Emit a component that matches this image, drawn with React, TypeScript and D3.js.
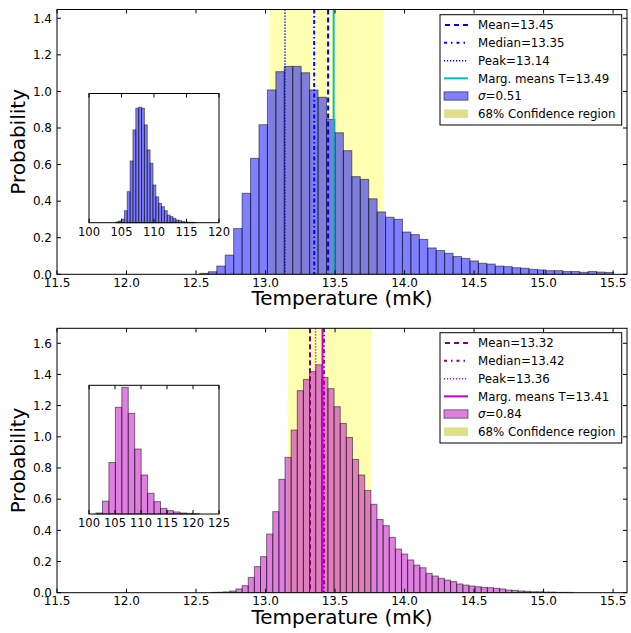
import React from 'react';
import * as d3 from 'd3';

// ---------- data ----------
const xTicks = [11.5, 12.0, 12.5, 13.0, 13.5, 14.0, 14.5, 15.0, 15.5];
const topYTicks = [0, 0.2, 0.4, 0.6, 0.8, 1.0, 1.2, 1.4];
const botYTicks = [0, 0.2, 0.4, 0.6, 0.8, 1.0, 1.2, 1.4, 1.6];

const topBinStart = 12.528;
const topBinWidth = 0.0607;
const topHeights = [
  0.005, 0.014, 0.045, 0.105, 0.25, 0.443, 0.634, 0.818, 1.008, 1.108,
  1.137, 1.137, 1.102, 1.008, 0.968, 0.847, 0.774, 0.676, 0.534, 0.519,
  0.413, 0.341, 0.312, 0.301, 0.231, 0.217, 0.191, 0.144, 0.13, 0.115,
  0.097, 0.087, 0.073, 0.06, 0.056, 0.045, 0.042, 0.036, 0.033, 0.027,
  0.024, 0.02, 0.02, 0.015, 0.015, 0.011, 0.015, 0.012, 0.01,
];

const botBinStart = 12.611;
const botBinWidth = 0.0441;
const botHeights = [
  0.002, 0.003, 0.005, 0.011, 0.024, 0.045, 0.098, 0.167, 0.231, 0.376,
  0.52, 0.727, 0.868, 1.043, 1.296, 1.368, 1.418, 1.462, 1.381, 1.309,
  1.193, 1.086, 0.996, 0.855, 0.755, 0.656, 0.567, 0.47, 0.43, 0.355,
  0.28, 0.248, 0.21, 0.177, 0.16, 0.124, 0.107, 0.092, 0.081, 0.071,
  0.056, 0.049, 0.043, 0.038, 0.034, 0.032, 0.028, 0.024, 0.017, 0.015,
  0.011, 0.009, 0.006, 0.006, 0.004, 0.004, 0.002, 0.002, 0.002,
];

const insetTopStart = 104.12;
const insetTopWidth = 0.44;
const insetTopHeights = [
  0.006, 0.013, 0.026, 0.093, 0.24, 0.478, 0.718, 0.886, 0.894, 0.886,
  0.757, 0.563, 0.46, 0.292, 0.2, 0.15, 0.124, 0.093, 0.059, 0.047,
  0.034, 0.021, 0.016, 0.008, 0.005, 0.004, 0.003, 0.002,
];
const insetTopTicks = [100, 105, 110, 115, 120];

const insetBotStart = 101.35;
const insetBotWidth = 1.24;
const insetBotHeights = [
  0.008, 0.1, 0.4, 0.829, 0.984, 0.782, 0.505, 0.303, 0.161, 0.096,
  0.044, 0.026, 0.016, 0.008, 0.005, 0.003,
];
const insetBotTicks = [100, 105, 110, 115, 120, 125];

const topStats = { mean: 13.45, median: 13.35, peak: 13.14, marg: 13.49, sigma: 0.51, ci: [13.03, 13.85] };
const botStats = { mean: 13.32, median: 13.42, peak: 13.36, marg: 13.41, sigma: 0.84, ci: [13.16, 13.76] };

const FONT = 'DejaVu Sans, sans-serif';

type PanelProps = {
  top: number;
  bottom: number;
  yMax: number;
  yTicks: number[];
  heights: number[];
  binStart: number;
  binWidth: number;
  barColor: string;
  stats: typeof topStats;
  colors: { mean: string; median: string; peak: string; marg: string };
  inset: { top: number; bottom: number; domain: [number, number]; ticks: number[]; start: number; width: number; heights: number[] };
  legendTop: number;
};

const L = 57, R = 627;

function Panel(p: PanelProps) {
  const x = d3.scaleLinear().domain([11.5, 15.6]).range([L, R]);
  const y = d3.scaleLinear().domain([0, p.yMax]).range([p.bottom, p.top]);
  const fmt = d3.format('.1f');
  const bins = p.heights.map((h, i) => ({ x0: p.binStart + i * p.binWidth, x1: p.binStart + (i + 1) * p.binWidth, h }));

  const ix = d3.scaleLinear().domain(p.inset.domain).range([89, 219]);
  const iy = d3.scaleLinear().domain([0, 1]).range([p.inset.bottom, p.inset.top]);
  const ibins = p.inset.heights.map((h, i) => ({ x0: p.inset.start + i * p.inset.width, x1: p.inset.start + (i + 1) * p.inset.width, h }));

  const lt = p.legendTop;
  const rows = [10.3, 28, 46, 63.6, 81.3, 99];
  const hx0 = 444, hx1 = 468, tx = 478;
  const s = p.stats;
  const lfs = 11.8;

  return (
    <g>
      <rect x={L} y={p.top} width={R - L} height={p.bottom - p.top} fill="white" />
      <clipPath id={`clip${p.top}`}>
        <rect x={L} y={p.top} width={R - L} height={p.bottom - p.top} />
      </clipPath>
      <g clipPath={`url(#clip${p.top})`}>
        <rect x={x(s.ci[0])} y={p.top} width={x(s.ci[1]) - x(s.ci[0])} height={p.bottom - p.top} fill="yellow" fillOpacity={0.3} />
        <line x1={x(s.median)} x2={x(s.median)} y1={p.top} y2={p.bottom} stroke="white" strokeWidth={4} />
        {bins.map((b, i) => (
          <rect key={i} x={x(b.x0)} y={y(b.h)} width={x(b.x1) - x(b.x0)} height={p.bottom - y(b.h)}
            fill={p.barColor} fillOpacity={0.5} stroke="black" strokeOpacity={0.5} strokeWidth={1} />
        ))}
        <line x1={x(s.peak)} x2={x(s.peak)} y1={p.top} y2={p.bottom} stroke={p.colors.peak} strokeWidth={1.5} strokeDasharray="1.2,1.8" />
        <line x1={x(s.median)} x2={x(s.median)} y1={p.top} y2={p.bottom} stroke={p.colors.median} strokeWidth={2} strokeDasharray="4,2.5,1.5,2.5" />
        <line x1={x(s.mean)} x2={x(s.mean)} y1={p.top} y2={p.bottom} stroke={p.colors.mean} strokeWidth={2} strokeDasharray="5,3" />
        <line x1={x(s.marg)} x2={x(s.marg)} y1={p.top} y2={p.bottom} stroke={p.colors.marg} strokeWidth={2} />
      </g>
      {/* frame */}
      <rect x={L} y={p.top} width={R - L} height={p.bottom - p.top} fill="none" stroke="black" strokeWidth={1} />
      {/* x ticks */}
      {xTicks.map((t) => (
        <g key={t}>
          <line x1={x(t)} x2={x(t)} y1={p.bottom} y2={p.bottom - 4} stroke="black" />
          <line x1={x(t)} x2={x(t)} y1={p.top} y2={p.top + 4} stroke="black" />
          <text x={x(t)} y={p.bottom + 12.2} fontSize={12} fontFamily={FONT} textAnchor="middle">{fmt(t)}</text>
        </g>
      ))}
      {p.yTicks.map((t) => (
        <g key={t}>
          <line x1={L} x2={L + 4} y1={y(t)} y2={y(t)} stroke="black" />
          <line x1={R} x2={R - 4} y1={y(t)} y2={y(t)} stroke="black" />
          <text x={52} y={y(t) + 4.3} fontSize={12} fontFamily={FONT} textAnchor="end">{fmt(t)}</text>
        </g>
      ))}
      <text x={(L + R) / 2} y={p.bottom + 31} fontSize={20} fontFamily={FONT} textAnchor="middle">Temperature (mK)</text>
      <text transform={`translate(24.5,${(p.top + p.bottom) / 2}) rotate(-90)`} fontSize={20} fontFamily={FONT} textAnchor="middle">Probability</text>

      {/* inset */}
      <rect x={89} y={p.inset.top} width={130} height={p.inset.bottom - p.inset.top} fill="white" />
      {ibins.map((b, i) => (
        <rect key={i} x={ix(b.x0)} y={iy(b.h)} width={ix(b.x1) - ix(b.x0)} height={p.inset.bottom - iy(b.h)}
          fill={p.barColor} fillOpacity={0.5} stroke="black" strokeOpacity={0.5} strokeWidth={1} />
      ))}
      <rect x={89} y={p.inset.top} width={130} height={p.inset.bottom - p.inset.top} fill="none" stroke="black" strokeWidth={1} />
      {p.inset.ticks.map((t) => (
        <g key={t}>
          <line x1={ix(t)} x2={ix(t)} y1={p.inset.top} y2={p.inset.top + 4} stroke="black" />
          <line x1={ix(t)} x2={ix(t)} y1={p.inset.bottom} y2={p.inset.bottom - 4} stroke="black" />
          <text x={ix(t)} y={p.inset.bottom + 13.2} fontSize={11.5} fontFamily={FONT} textAnchor="middle">{t}</text>
        </g>
      ))}

      {/* legend */}
      <rect x={440} y={lt} width={181.7} height={110.3} fill="white" stroke="black" strokeWidth={1} />
      <line x1={hx0} x2={hx1} y1={lt + rows[0]} y2={lt + rows[0]} stroke={p.colors.mean} strokeWidth={2} strokeDasharray="5,4" strokeDashoffset={-1} />
      <line x1={hx0} x2={hx1} y1={lt + rows[1]} y2={lt + rows[1]} stroke={p.colors.median} strokeWidth={2} strokeDasharray="3,4,1.5,4" />
      <line x1={hx0} x2={hx1} y1={lt + rows[2]} y2={lt + rows[2]} stroke={p.colors.peak} strokeWidth={1.5} strokeDasharray="1.2,1.8" />
      <line x1={hx0} x2={hx1} y1={lt + rows[3]} y2={lt + rows[3]} stroke={p.colors.marg} strokeWidth={2} />
      <rect x={hx0} y={lt + rows[4] - 4.2} width={hx1 - hx0} height={8.4} fill={p.barColor} fillOpacity={0.5} stroke="black" strokeOpacity={0.5} />
      <rect x={hx0} y={lt + rows[5] - 4.2} width={hx1 - hx0} height={8.4} fill="#dfdf88" />
      {[`Mean=${s.mean.toFixed(2)}`, `Median=${s.median.toFixed(2)}`, `Peak=${s.peak.toFixed(2)}`, `Marg. means T=${s.marg.toFixed(2)}`].map((t, i) => (
        <text key={t} x={tx} y={lt + rows[i] + 4.2} fontSize={lfs} fontFamily={FONT}>{t}</text>
      ))}
      <text x={tx} y={lt + rows[4] + 4.2} fontSize={lfs} fontFamily={FONT}>
        <tspan fontStyle="italic">σ</tspan>={s.sigma.toFixed(2)}
      </text>
      <text x={tx} y={lt + rows[5] + 4.2} fontSize={lfs} fontFamily={FONT}>68% Confidence region</text>
    </g>
  );
}

export default function App() {
  return (
    <svg width={631} height={633} style={{ position: 'absolute', left: 0, top: 0, background: 'white' }}>
      <rect width={631} height={633} fill="white" />
      <Panel
        top={9.5} bottom={274.3} yMax={1.448} yTicks={topYTicks}
        heights={topHeights} binStart={topBinStart} binWidth={topBinWidth}
        barColor="#0000ff" stats={topStats}
        colors={{ mean: '#0000ff', median: '#0000ff', peak: '#0000ff', marg: '#00bfbf' }}
        inset={{ top: 93.5, bottom: 222.7, domain: [100, 120], ticks: insetTopTicks, start: insetTopStart, width: insetTopWidth, heights: insetTopHeights }}
        legendTop={14.7}
      />
      <Panel
        top={328.3} bottom={592.7} yMax={1.696} yTicks={botYTicks}
        heights={botHeights} binStart={botBinStart} binWidth={botBinWidth}
        barColor="#bf00bf" stats={botStats}
        colors={{ mean: '#800080', median: '#800080', peak: '#a020a0', marg: '#cc00cc' }}
        inset={{ top: 385.3, bottom: 514, domain: [100, 125], ticks: insetBotTicks, start: insetBotStart, width: insetBotWidth, heights: insetBotHeights }}
        legendTop={332.7}
      />
    </svg>
  );
}
